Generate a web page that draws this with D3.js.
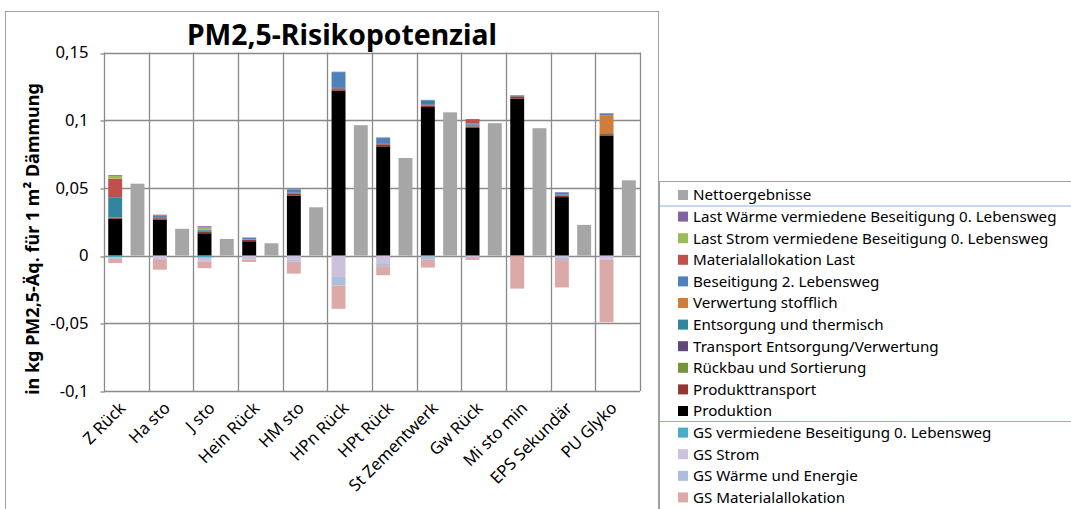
<!DOCTYPE html>
<html>
<head>
<meta charset="utf-8">
<script src="https://cdn.jsdelivr.net/npm/d3@7"></script>
<style>
body{margin:0;background:#fff;}
text{font-family:"Noto Sans",sans-serif;fill:#000;}
</style>
</head>
<body>
<svg id="chart" width="1071" height="509"></svg>
<script>
// categories + series
const categories = ["Z Rück","Ha sto","J sto","Hein Rück","HM sto","HPn Rück","HPt Rück","St Zementwerk","Gw Rück","Mi sto min","EPS Sekundär","PU Glyko"];

const produktion          = [0.0272,0.0264,0.0165,0.0106,0.0442,0.1217,0.0807,0.1097,0.0943,0.1158,0.0432,0.0887];
const produkttransport    = [0.0008,0.0012,0.0010,0.0010,0.0015,0.0012,0.0015,0.0012,0.0010,0.0014,0.0012,0.0010];
const rueckbau            = [0.0003,0.0002,0.0002,0.0002,0.0002,0.0004,0.0002,0.0003,0.0002,0.0002,0.0002,0.0002];
const transportEntsorgung = [0.0002,0.0005,0.0007,0.0002,0.0006,0.0010,0.0005,0.0005,0.0004,0.0007,0.0004,0.0005];
const entsorgungThermisch = [0.0146,0,0.0008,0,0,0,0,0.0025,0.0008,0,0,0];
const verwertungStofflich = [0,0,0,0,0,0,0,0,0,0,0,0.0133];
const beseitigung         = [0,0.0012,0,0.0012,0.0024,0.0112,0.0042,0.0006,0.0008,0.0002,0.0017,0.0013];
const materialLast        = [0.0138,0.0005,0,0,0,0,0,0,0.0033,0,0,0];
const lastStrom           = [0.0020,0.0002,0.0015,0,0,0,0,0,0,0,0,0];
const lastWaerme          = [0.0006,0.0001,0.0010,0.0002,0.0002,0.0003,0.0002,0.0002,0.0001,0.0002,0.0002,0.0002];

const gsVermiedene = [-0.0013,-0.0002,-0.0015,-0.0002,-0.0002,-0.0003,-0.0002,-0.0002,-0.0002,-0.0001,-0.0003,-0.0002];
const gsStrom      = [-0.0002,-0.0018,-0.0025,-0.0025,-0.0027,-0.0150,-0.0054,-0.0002,-0.0008,-0.0002,-0.0015,-0.0020];
const gsWaerme     = [-0.0008,-0.0006,-0.0003,-0.0003,-0.0015,-0.0067,-0.0022,-0.0027,-0.0007,-0.0001,-0.0015,-0.0006];
const gsMaterial   = [-0.0032,-0.0078,-0.0050,-0.0017,-0.0089,-0.0173,-0.0067,-0.0057,-0.0015,-0.0240,-0.0202,-0.0464];

const netto = [0.0531,0.0198,0.0123,0.0091,0.0357,0.0963,0.0721,0.1058,0.0978,0.0941,0.0227,0.0556];

const yTicks = [-0.1,-0.05,0,0.05,0.1,0.15];

// series: key, legend label, colour, values  (stack order, bottom up; negatives from zero down)
const series = [
  {key:"produktion", label:"Produktion", color:"#000000", values:produktion},
  {key:"produkttransport", label:"Produkttransport", color:"#953735", values:produkttransport},
  {key:"rueckbau", label:"Rückbau und Sortierung", color:"#77933c", values:rueckbau},
  {key:"transportEntsorgung", label:"Transport Entsorgung/Verwertung", color:"#604a7b", values:transportEntsorgung},
  {key:"entsorgungThermisch", label:"Entsorgung und thermisch", color:"#31859c", values:entsorgungThermisch},
  {key:"verwertungStofflich", label:"Verwertung stofflich", color:"#d27c3a", values:verwertungStofflich},
  {key:"beseitigung", label:"Beseitigung 2. Lebensweg", color:"#4f81bd", values:beseitigung},
  {key:"materialLast", label:"Materialallokation Last", color:"#c0504d", values:materialLast},
  {key:"lastStrom", label:"Last Strom vermiedene Beseitigung 0. Lebensweg", color:"#9bbb59", values:lastStrom},
  {key:"lastWaerme", label:"Last Wärme vermiedene Beseitigung 0. Lebensweg", color:"#8064a2", values:lastWaerme},
  {key:"gsVermiedene", label:"GS vermiedene Beseitigung 0. Lebensweg", color:"#4bacc6", values:gsVermiedene},
  {key:"gsStrom", label:"GS Strom", color:"#ccc1da", values:gsStrom},
  {key:"gsWaerme", label:"GS Wärme und Energie", color:"#abbedd", values:gsWaerme},
  {key:"gsMaterial", label:"GS Materialallokation", color:"#dca9a9", values:gsMaterial}
];
const nettoColor = "#a6a6a6";

// legend order as in the original (Excel style)
const legendOrder = ["netto","lastWaerme","lastStrom","materialLast","beseitigung","verwertungStofflich","entsorgungThermisch","transportEntsorgung","rueckbau","produkttransport","produktion","gsVermiedene","gsStrom","gsWaerme","gsMaterial"];

const svg = d3.select("#chart");
const W = 1071, H = 509;

// plot area
const plotLeft = 104, plotRight = 640, plotTop = 52.5, plotBottom = 391;

const rows = categories.map((c,i) => {
  const r = {cat:c};
  series.forEach(s => r[s.key] = s.values[i]);
  return r;
});

const x = d3.scaleBand().domain(categories).range([plotLeft,plotRight]).padding(0);
const xi = d3.scaleBand().domain(["stack","net"]).range([0,x.bandwidth()]).paddingInner(0.375).paddingOuter(0.19);
const y = d3.scaleLinear().domain([-0.1,0.15]).range([plotBottom,plotTop]);

const locale = d3.formatLocale({decimal:",", thousands:".", grouping:[3], currency:["","€"], minus:"-"});
const fmt = locale.format("~f");

// chart frame
svg.append("rect").attr("x",5.5).attr("y",11.5).attr("width",653).attr("height",520)
  .attr("fill","#fff").attr("stroke","#a0a0a0");

// grid
const grid = svg.append("g").attr("stroke","#8a8a8a").attr("stroke-width",1.3);
grid.selectAll("line.h").data(yTicks).join("line")
  .attr("x1",plotLeft).attr("x2",plotRight)
  .attr("y1",d=>Math.round(y(d))+0.5).attr("y2",d=>Math.round(y(d))+0.5);
const vx = categories.map(c => x(c)).concat([plotRight]);
grid.selectAll("line.v").data(vx).join("line")
  .attr("x1",d=>Math.round(d)+0.5).attr("x2",d=>Math.round(d)+0.5)
  .attr("y1",plotTop).attr("y2",plotBottom);

// y axis
const yAxis = svg.append("g").attr("transform",`translate(${plotLeft+0.5},0)`)
  .call(d3.axisLeft(y).tickValues(yTicks).tickSize(4).tickPadding(12).tickFormat(fmt));
yAxis.select(".domain").remove();
yAxis.selectAll(".tick line").attr("stroke","#8a8a8a").attr("stroke-width",1.3)
  .attr("transform",d=>`translate(0,${Math.round(y(d))+0.5-y(d)})`);
yAxis.selectAll(".tick text").style("font-family","Noto Sans").style("font-size","16.5px").attr("fill","#000");

// stacked bars
const stack = d3.stack().keys(series.map(s=>s.key)).offset(d3.stackOffsetDiverging);
const stacked = stack(rows);
const colorOf = Object.fromEntries(series.map(s=>[s.key,s.color]));

svg.append("g").selectAll("g").data(stacked).join("g")
  .attr("fill",d=>colorOf[d.key])
  .selectAll("rect").data(d=>d).join("rect")
  .attr("x",d=>x(d.data.cat)+xi("stack"))
  .attr("width",xi.bandwidth())
  .attr("y",d=>y(Math.max(d[0],d[1])))
  .attr("height",d=>Math.abs(y(d[0])-y(d[1])));

// net bars
svg.append("g").attr("fill",nettoColor).selectAll("rect").data(categories).join("rect")
  .attr("x",c=>x(c)+xi("net"))
  .attr("width",xi.bandwidth())
  .attr("y",(c,i)=>y(Math.max(0,netto[i])))
  .attr("height",(c,i)=>Math.abs(y(netto[i])-y(0)));

// x labels
const xLabels = svg.append("g").selectAll("text").data(categories).join("text")
  .attr("text-anchor","end")
  .attr("transform",c=>`translate(${x(c)+x.bandwidth()/2-4},${plotBottom+14}) rotate(-45)`)
  .attr("dy","0.35em")
  .style("font-size","15px")
  .text(c=>c);

// title
svg.append("text").attr("x",342).attr("y",45).attr("text-anchor","middle")
  .style("font-size","28px").style("font-weight","bold").text("PM2,5-Risikopotenzial");

// y title
svg.append("text").attr("transform","translate(39,239) rotate(-90)").attr("text-anchor","middle")
  .style("font-size","13px").style("font-weight","bold").text("in kg PM2,5-Äq. für 1 m² Dämmung");

// legend
svg.append("rect").attr("x",659.5).attr("y",181.5).attr("width",430).attr("height",340)
  .attr("fill","#fff").attr("stroke","#a0a0a0");
const legendItems = legendOrder.map(k => k==="netto" ? {key:"netto", label:"Nettoergebnisse", color:nettoColor}
  : series.find(s=>s.key===k));
const lg = svg.append("g").selectAll("g").data(legendItems).join("g")
  .attr("transform",(d,i)=>`translate(678,${195+i*21.6})`);
lg.append("rect").attr("y",-5).attr("width",10).attr("height",10).attr("fill",d=>d.color);
lg.append("text").attr("x",15).attr("dy","0.36em").style("font-size","15px").text(d=>d.label);
svg.append("g").attr("stroke","#8faadc").selectAll("line").data([206,421.5]).join("line")
  .attr("x1",660).attr("x2",W).attr("y1",d=>d).attr("y2",d=>d);

// fit font sizes to the widths measured in the reference
function fit(sel, target){
  const node = sel.node();
  const fs = parseFloat(sel.style("font-size"));
  const w = node.getComputedTextLength();
  return fs*target/w;
}
const title = svg.selectAll("text").filter(function(){return d3.select(this).text()==="PM2,5-Risikopotenzial";});
title.style("font-size", fit(title,310)+"px");
const ytitle = svg.selectAll("text").filter(function(){return d3.select(this).text().startsWith("in kg");});
ytitle.style("font-size", fit(ytitle,312)+"px");
const longest = lg.selectAll("text").filter(d=>d.key==="lastWaerme");
lg.selectAll("text").style("font-size", fit(longest,364)+"px");
const tickLbl = yAxis.selectAll(".tick text").filter(d=>d===0.15);
yAxis.selectAll(".tick text").style("font-size", fit(tickLbl,33)+"px");
const xl = xLabels.filter(c=>c==="St Zementwerk");
xLabels.style("font-size", fit(xl,118)+"px");
</script>
</body>
</html>
